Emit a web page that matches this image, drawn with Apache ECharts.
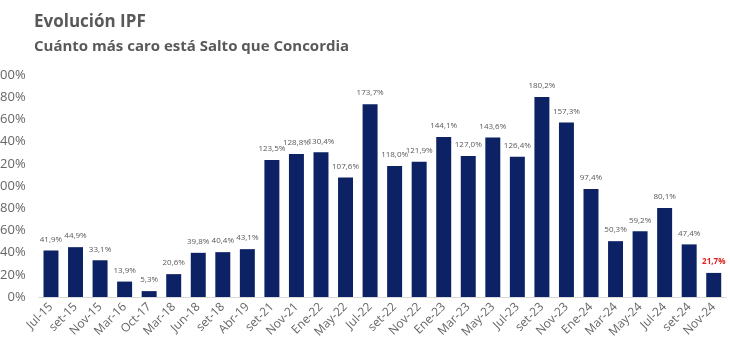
<!DOCTYPE html>
<html><head><meta charset="utf-8">
<script src="https://cdn.jsdelivr.net/npm/echarts@6/dist/echarts.min.js"></script>
<style>html,body{margin:0;padding:0;background:#fff}#c{width:730px;height:363px}</style>
</head><body><div id="c"></div>
<script>
const categories = ["Jul-15","set-15","Nov-15","Mar-16","Oct-17","Mar-18","Jun-18","set-18","Abr-19","set-21","Nov-21","Ene-22","May-22","Jul-22","set-22","Nov-22","Ene-23","Mar-23","May-23","Jul-23","set-23","Nov-23","Ene-24","Mar-24","May-24","Jul-24","set-24","Nov-24"];
const values = [41.9,44.9,33.1,13.9,5.3,20.6,39.8,40.4,43.1,123.5,128.8,130.4,107.6,173.7,118.0,121.9,144.1,127.0,143.6,126.4,180.2,157.3,97.4,50.3,59.2,80.1,47.4,21.7];
const yTicks = [0,20,40,60,80,100,120,140,160,180,200];
const titleText = "Evolución IPF";
const subtitleText = "Cuánto más caro está Salto que Concordia";

const fmt = v => v.toFixed(1).replace('.', ',') + '%';
const last = values.length - 1;
const data = values.map((v, i) => i === last ? {
  value: v,
  label: { color: '#e0201b', fontWeight: 'bold' }
} : v);

const chart = echarts.init(document.getElementById('c'), null, {renderer: 'canvas'});
chart.setOption({
  animation: false,
  title: [{
    text: titleText, left: 29, top: 9,
    textStyle: { fontFamily: 'Open Sans', fontSize: 17, fontWeight: 'bold', color: '#595959' }
  }, {
    text: subtitleText, left: 29, top: 34,
    textStyle: { fontFamily: 'Open Sans', fontSize: 15, fontWeight: 'bold', color: '#595959' }
  }],
  grid: { left: 38.7, right: 4, top: 75, bottom: 66, containLabel: false, outerBoundsMode: 'none' },
  xAxis: {
    type: 'category', data: categories,
    axisLine: { lineStyle: { color: '#d9d9d9', width: 1 } },
    axisTick: { show: false },
    axisLabel: { rotate: 45, interval: 0, fontFamily: 'Open Sans', fontSize: 12, color: '#666666', margin: 8 }
  },
  yAxis: {
    type: 'value', min: yTicks[0], max: yTicks[yTicks.length - 1], interval: 20,
    splitLine: { show: false }, axisLine: { show: false }, axisTick: { show: false },
    axisLabel: { formatter: v => v + '%', fontFamily: 'Open Sans', fontSize: 13, color: '#666666', margin: 13 }
  },
  series: [{
    type: 'bar', data: data, barCategoryGap: '39%',
    itemStyle: { color: '#0c2264' },
    label: { show: true, position: 'top', distance: 7, formatter: p => fmt(p.value),
      fontFamily: 'Open Sans', fontSize: 8, color: '#595959' }
  }]
});
</script></body></html>
